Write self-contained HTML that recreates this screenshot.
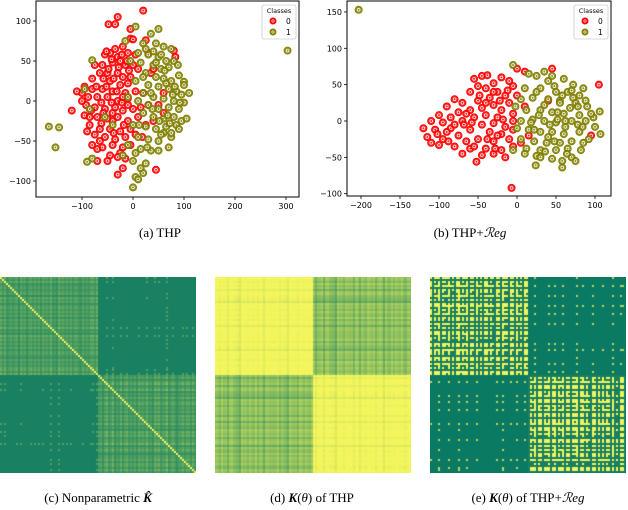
<!DOCTYPE html>
<html><head><meta charset="utf-8"><style>
html,body{margin:0;padding:0;background:#fff;width:628px;height:510px;overflow:hidden}
svg text{font-family:"DejaVu Sans","Liberation Sans",sans-serif}
.cap{font-family:"Liberation Serif",serif;font-size:13px;fill:#000}
</style></head><body>
<svg id="fig" width="628" height="510" viewBox="0 0 628 510" xmlns="http://www.w3.org/2000/svg">
<g id="pa"></g>
<g id="pb"></g>
<text class="cap" x="160" y="237" text-anchor="middle">(a)  THP</text>
<text class="cap" x="470" y="237" text-anchor="middle">(b)  THP+<tspan font-style="italic">ℛeg</tspan></text>
<foreignObject x="0" y="277" width="628" height="197"><div xmlns="http://www.w3.org/1999/xhtml" style="position:relative;width:628px;height:197px">
<canvas id="hc" width="196" height="196" style="position:absolute;left:0;top:0"></canvas>
<canvas id="hd" width="196" height="196" style="position:absolute;left:215px;top:0"></canvas>
<canvas id="he" width="196" height="196" style="position:absolute;left:430px;top:0"></canvas>
</div></foreignObject>
<text class="cap" x="98" y="502" text-anchor="middle">(c)  Nonparametric <tspan font-weight="bold" font-style="italic">K̂</tspan></text>
<text class="cap" x="312" y="502" text-anchor="middle">(d)  <tspan font-weight="bold" font-style="italic">K</tspan>(<tspan font-style="italic">θ</tspan>) of THP</text>
<text class="cap" x="528" y="502" text-anchor="middle">(e)  <tspan font-weight="bold" font-style="italic">K</tspan>(<tspan font-style="italic">θ</tspan>) of THP+<tspan font-style="italic">ℛeg</tspan></text>
</svg>
<script>
const aClass0=[[-30,105],[-48,96],[-35,96],[20,113],[-5,78],[0,77],[25,76],[-20,68],[-35,65],[-45,60],[-55,58],[-30,55],[-10,60],[5,58],[-25,50],[-40,48],[-60,45],[-75,45],[-15,45],[0,45],[10,40],[-50,35],[-65,35],[-30,35],[-20,30],[-5,30],[-80,28],[-45,25],[-25,20],[-10,22],[-95,18],[-80,15],[-60,15],[-40,12],[-15,10],[5,12],[20,10],[-100,10],[-70,5],[-50,5],[-30,0],[-10,3],[-120,-12],[-92,-5],[-75,-8],[-55,-10],[-35,-8],[-20,-12],[0,-10],[15,-8],[30,-5],[50,-5],[60,-15],[-95,-18],[-70,-20],[-50,-22],[-30,-20],[-10,-25],[10,-20],[-85,-30],[-65,-35],[-45,-35],[-25,-38],[-5,-35],[-90,-38],[-75,-42],[-55,-45],[-35,-48],[-15,-45],[5,-42],[-80,-55],[-60,-58],[-40,-55],[-20,-58],[-5,-55],[-45,-68],[-25,-65],[-70,-75],[-50,-75],[-15,-72],[-20,-84],[-30,-92],[45,-86],[80,63],[83,55],[18,-45],[25,-30],[40,-25],[35,35],[40,40],[60,10],[-5,90],[30,60],[-100,0],[-110,12],[-85,-20],[-65,-50],[-10,-5],[-40,-15],[-20,5],[-52,62],[-42,52],[-22,58],[-8,38],[-58,28],[-38,28],[-72,18],[-52,18],[-32,12],[-88,5],[-62,-2],[-42,-2],[-22,-2],[-82,-12],[-62,-28],[-40,-25],[-18,-30],[-70,-60],[-30,-70],[-38,-40],[-58,-15],[-28,42],[-12,50],[-48,40]];
const aClass1=[[5,93],[50,90],[35,84],[-15,75],[20,72],[45,72],[60,68],[75,65],[10,60],[30,58],[50,55],[65,50],[80,50],[-80,51],[15,48],[40,45],[55,40],[70,42],[25,35],[45,30],[60,28],[75,25],[90,32],[100,24],[5,25],[30,20],[50,18],[70,15],[85,12],[95,8],[110,10],[-95,15],[20,10],[40,5],[60,3],[80,0],[100,-2],[-10,5],[10,0],[30,-5],[50,-10],[70,-8],[90,-10],[-85,-10],[-55,-20],[20,-15],[40,-20],[60,-22],[80,-20],[95,-25],[105,-22],[0,-30],[25,-32],[45,-35],[65,-32],[85,-30],[-40,-30],[10,-45],[30,-48],[50,-50],[75,-45],[90,-35],[-10,-55],[15,-60],[35,-62],[70,-58],[0,-75],[25,-78],[-20,-68],[-80,-72],[-90,-76],[5,-95],[10,-98],[20,-90],[15,-84],[0,-108],[-165,-32],[-145,-33],[-152,-58],[303,63],[5,-65],[50,-62],[55,58],[88,45],[-5,50],[100,20],[75,-40],[60,-40],[35,10],[20,30],[40,62],[62,38],[78,8],[52,-25],[68,-18],[38,-10],[28,-58],[55,-42],[82,18],[65,22],[45,48],[25,65],[12,-30],[92,-2],[72,-28]];
const bClass0=[[-45,62],[-38,63],[-55,58],[-20,60],[-30,52],[-50,48],[-40,45],[-10,55],[-25,40],[-60,40],[-15,35],[-35,32],[-5,48],[-50,28],[-80,30],[-70,25],[-30,22],[-45,18],[-60,15],[-90,20],[-20,15],[-10,25],[-75,12],[-40,8],[-55,5],[-100,8],[-85,5],[-25,5],[-5,10],[-110,0],[-95,-2],[-70,0],[-45,-5],[-30,-3],[-15,-8],[-120,-10],[-105,-12],[-85,-10],[-60,-12],[-35,-15],[-20,-18],[-5,-12],[-115,-22],[-95,-25],[-75,-20],[-50,-25],[-30,-28],[-10,-25],[-100,-33],[-80,-35],[-60,-38],[-40,-38],[-20,-40],[-5,-35],[-70,-45],[-45,-47],[-30,-45],[-15,-50],[-52,-56],[5,-30],[0,72],[10,68],[-7,-92],[105,50],[95,-20],[45,72],[40,28],[15,-20],[-65,-28],[-25,-20],[-90,-15],[-40,25],[-5,0],[-55,-35],[0,35],[10,20],[-65,10],[-110,-30],[-80,-5],[-30,40],[-22,28],[-48,35],[-12,42],[-68,-5],[-38,-25],[-88,-28],[-58,-2],[-28,-38],[-102,-18],[-18,2]];
const bClass1=[[-5,77],[15,65],[25,62],[40,55],[60,58],[72,50],[85,45],[10,45],[30,45],[50,40],[65,40],[80,35],[5,30],[20,32],[40,30],[55,28],[75,25],[90,20],[12,15],[30,15],[45,12],[60,10],[80,8],[98,5],[5,0],[20,2],[35,0],[50,-2],[70,0],[88,0],[100,-8],[107,-18],[106,13],[0,-10],[15,-12],[30,-15],[45,-15],[60,-18],[80,-15],[92,-25],[5,-25],[22,-28],[38,-30],[55,-30],[70,-28],[12,-38],[30,-40],[50,-40],[65,-38],[25,-48],[45,-52],[58,-55],[70,-50],[75,-55],[30,-50],[58,-64],[24,-61],[-203,153],[35,68],[55,25],[68,18],[42,-5],[85,-30],[-5,-40],[10,-45],[25,40],[48,48],[62,-8],[78,-5],[95,10],[18,-2],[35,22],[52,12],[72,32],[88,28],[-2,20],[40,-22],[82,-40],[62,0],[28,8],[45,62],[70,42],[58,35],[84,-8],[48,-28],[64,-45],[36,-42],[78,20],[52,2],[22,-12]];
const aXTicks=[-100,0,100,200,300], aYTicks=[-100,-50,0,50,100];
const bXTicks=[-200,-150,-100,-50,0,50,100], bYTicks=[-100,-50,0,50,100,150];
const classLabels=["0","1"];
const NS="http://www.w3.org/2000/svg";
function el(t,a,p){const e=document.createElementNS(NS,t);for(const k in a)e.setAttribute(k,a[k]);p.appendChild(e);return e;}
function scatter(g,box,x0,xs,y0,ys,xt,yt,c0,c1,lx){
 const X=v=>x0+xs*v, Y=v=>y0-ys*v;
 const cols=["#ff0000","#808000"];
 [c0,c1].forEach((pts,ci)=>{pts.forEach(p=>{
   const c=el('circle',{cx:X(p[0]),cy:Y(p[1]),r:3.6,fill:cols[ci],'fill-opacity':0.85,stroke:cols[ci],'stroke-width':0.8},g);
   
   
   el('circle',{cx:X(p[0]),cy:Y(p[1]),r:1.4,fill:'none',stroke:'#fff','stroke-width':0.7},g);
 });});
 const fr=el('rect',{x:box[0],y:box[1],width:box[2]-box[0],height:box[3]-box[1],fill:'none',stroke:'#000','stroke-width':1},g);
 
 xt.forEach(v=>{el('line',{x1:X(v),x2:X(v),y1:box[3],y2:box[3]+3,stroke:'#000','stroke-width':0.8},g);
  const t=el('text',{x:X(v),y:box[3]+12,'font-size':8,'text-anchor':'middle'},g);t.textContent=(v<0?'\u2212'+(-v):v);
  });
 yt.forEach(v=>{el('line',{x1:box[0]-3,x2:box[0],y1:Y(v),y2:Y(v),stroke:'#000','stroke-width':0.8},g);
  const t=el('text',{x:box[0]-5,y:Y(v)+3,'font-size':8,'text-anchor':'end'},g);t.textContent=(v<0?'\u2212'+(-v):v);
  });
 const lg=el('g',{},g);
 el('rect',{x:lx,y:5,width:34,height:34,fill:'#fff','fill-opacity':0.85,stroke:'#ccc','stroke-width':0.8,rx:2},lg);
 const tt=el('text',{x:lx+17,y:13,'font-size':6.5,'text-anchor':'middle'},lg);tt.textContent='Classes';
 classLabels.forEach((l,i)=>{const yy=21+i*11;
  el('circle',{cx:lx+11,cy:yy,r:3,fill:cols[i],stroke:cols[i]},lg);
  el('circle',{cx:lx+11,cy:yy,r:1.2,fill:'none',stroke:'#fff','stroke-width':0.6},lg);
  const t=el('text',{x:lx+24,y:yy+3,'font-size':7.5},lg);t.textContent=l;
  });
}
scatter(document.getElementById('pa'),[36,1,299,197],133,0.51,101,0.80,aXTicks,aYTicks,aClass0,aClass1,262);
scatter(document.getElementById('pb'),[347,1,611,196],517,0.78,121,0.727,bXTicks,bYTicks,bClass0,bClass1,574);

const strengthC=[.9,.5,.8,.3,.7,.95,.4,.6,.85,.2,.75,.5,.9,.35,.65,.8,.45,.7,.55,.9,.3,.8,.6,.75,.4,.85,.5,.7,.25,.9,.6,.8,.45,.7,.55,.95,.35,.65,.8,.5,.3,.75,.6,.85,.4,.7,.9,.5];
const strengthD=[.95,.9,.7,.98,.85,.97,.6,.92,.99,.8,.95,.9,.5,.96,.88,.93,.75,.97,.9,.85,.99,.7,.94,.9,.6,.95,.9,.8,.97,.92,.85,.98,.7,.93,.96,.9,.55,.97,.9,.85,.95,.75,.99,.9,.8,.96,.9,.85];
const strengthE=[.95,.3,.9,.6,1,.2,.85,.7,.4,.95,.5,.9,.25,.8,1,.35,.9,.6,.95,.15,.85,.7,.3,.9,.55,1,.2,.8,.9,.4,.95,.6,.3,.9,.75,.2,1,.5,.85,.35,.9,.65,.25,.95,.5,.8,.3,.9];
const N=98;
function lerp(t){const a=[11,122,98],b=[242,245,92];t=Math.max(0,Math.min(1,t));return 'rgb('+a.map((v,i)=>Math.round(v+(b[i]-v)*t)).join(',')+')';}
function heat(id,s,fn){const cv=document.getElementById(id),ctx=cv.getContext('2d');const cs=196/N,L=s.length;
 const S=k=>s[k%L]*(0.5+0.5*s[(Math.floor(k/2)+7)%L]);
 for(let i=0;i<N;i++)for(let j=0;j<N;j++){const same=(i<N/2)===(j<N/2);ctx.fillStyle=lerp(fn(S(i),S(j),same,i===j));
  ctx.fillRect(Math.floor(j*cs),Math.floor(i*cs),Math.ceil(cs),Math.ceil(cs));}}
heat('hc',strengthC,(a,b,same,d)=>d?1:same?0.12+0.6*a*b:(a*b>0.55?0.3:0.06));
heat('hd',strengthD,(a,b,same,d)=>same?0.7+0.5*a*b:0.1+0.7*a*b);
heat('he',strengthE,(a,b,same,d)=>same?(a*b>0.3?1:0.05):(a*b>0.75?0.75:0));
</script>
</body></html>
